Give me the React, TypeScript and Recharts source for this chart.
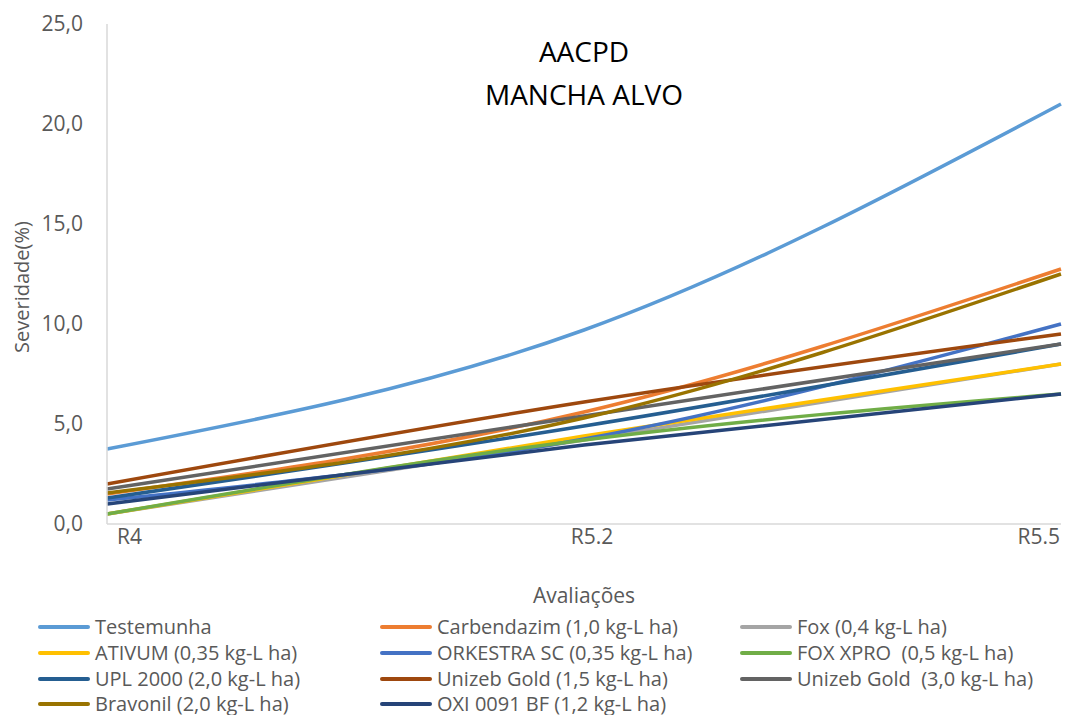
import React from 'react';
import { LineChart, Line, XAxis, YAxis } from 'recharts';

const categories = ['R4', 'R5.2', 'R5.5'];
const testemunha = [3.75, 9.7, 21.0];
const carbendazim = [1.5, 5.6, 12.75];
const fox = [0.5, 4.2, 8.0];
const ativum = [0.5, 4.4, 8.0];
const orkestra = [1.2, 4.25, 10.0];
const foxXpro = [0.5, 4.2, 6.5];
const upl2000 = [1.3, 4.9, 9.0];
const unizeb15 = [2.0, 6.1, 9.5];
const unizeb30 = [1.75, 5.4, 9.0];
const bravonil = [1.55, 5.3, 12.5];
const oxi = [1.0, 3.95, 6.5];
const yTicks = [0, 5, 10, 15, 20, 25];

const series = [
  { key: 'testemunha', name: 'Testemunha', values: testemunha, color: '#5B9BD5' },
  { key: 'carbendazim', name: 'Carbendazim (1,0 kg-L ha)', values: carbendazim, color: '#ED7D31' },
  { key: 'fox', name: 'Fox (0,4 kg-L ha)', values: fox, color: '#A5A5A5' },
  { key: 'ativum', name: 'ATIVUM (0,35 kg-L ha)', values: ativum, color: '#FFC000' },
  { key: 'orkestra', name: 'ORKESTRA SC (0,35 kg-L ha)', values: orkestra, color: '#4472C4' },
  { key: 'foxXpro', name: 'FOX XPRO\u00a0 (0,5 kg-L ha)', values: foxXpro, color: '#70AD47' },
  { key: 'upl2000', name: 'UPL 2000 (2,0 kg-L ha)', values: upl2000, color: '#255E91' },
  { key: 'unizeb15', name: 'Unizeb Gold (1,5 kg-L ha)', values: unizeb15, color: '#9E480E' },
  { key: 'unizeb30', name: 'Unizeb Gold\u00a0 (3,0 kg-L ha)', values: unizeb30, color: '#636363' },
  { key: 'bravonil', name: 'Bravonil (2,0 kg-L ha)', values: bravonil, color: '#997300' },
  { key: 'oxi', name: 'OXI 0091 BF (1,2 kg-L ha)', values: oxi, color: '#264478' },
];

const data = categories.map((c, i) => {
  const row: Record<string, any> = { cat: c };
  series.forEach((s) => (row[s.key] = s.values[i]));
  return row;
});

const FONT = '"Segoe UI", "Open Sans", "Noto Sans", sans-serif';
const GREY = '#595959';

const XTick = (props: any) => {
  const { x, y, payload, index } = props;
  let anchor: 'start' | 'middle' | 'end' = 'middle';
  let dx = 8;
  if (index === 0) { anchor = 'start'; dx = 10; }
  if (index === categories.length - 1) { anchor = 'end'; dx = -1; }
  return (
    <text x={x + dx} y={y} dy={12} textAnchor={anchor} fill={GREY} fontSize={21} fontFamily={FONT}>
      {payload.value}
    </text>
  );
};

const colX = [38, 380, 740];
const rowY = [627, 653, 679, 704];

export default function App() {
  return (
    <div style={{ position: 'absolute', left: 0, top: 0, width: 1072, height: 715, background: '#fff', fontFamily: FONT }}>
      <LineChart width={1072} height={715} data={data} margin={{ top: 24, right: 11, bottom: 151, left: 0 }}>
        <XAxis
          dataKey="cat"
          tick={<XTick />}
          tickLine={false}
          axisLine={{ stroke: '#D9D9D9', strokeWidth: 1.5 }}
          height={40}
          interval={0}
        />
        <YAxis
          domain={[0, 25]}
          ticks={yTicks}
          width={107}
          tickLine={false}
          tickSize={0}
          tickMargin={24}
          axisLine={{ stroke: '#D9D9D9', strokeWidth: 1.5 }}
          tick={{ fill: GREY, fontSize: 21, fontFamily: FONT }}
          tickFormatter={(v: number) => v.toFixed(1).replace('.', ',')}
        />
        {series.map((s) => (
          <Line
            key={s.key}
            type="natural"
            dataKey={s.key}
            name={s.name}
            stroke={s.color}
            strokeWidth={3.5}
            dot={false}
            activeDot={false}
            isAnimationActive={false}
          />
        ))}
      </LineChart>
      <div style={{ position: 'absolute', left: 384, width: 400, top: 30, textAlign: 'center', fontSize: 28, color: '#000', lineHeight: '43px' }}>
        AACPD<br />MANCHA ALVO
      </div>
      <div style={{ position: 'absolute', left: 484, width: 200, top: 581, textAlign: 'center', fontSize: 21, color: GREY, lineHeight: '28px' }}>
        Avaliações
      </div>
      <div style={{ position: 'absolute', left: 22, top: 287, width: 0, height: 0 }}>
        <div style={{ position: 'absolute', left: -100, top: -14, width: 200, textAlign: 'center', fontSize: 20, color: GREY, lineHeight: '28px', transform: 'rotate(-90deg)' }}>
          Severidade(%)
        </div>
      </div>
      {series.map((s, i) => {
        const col = i % 3;
        const row = Math.floor(i / 3);
        return (
          <div key={s.key} style={{ position: 'absolute', left: colX[col], top: rowY[row] - 13, height: 26, display: 'flex', alignItems: 'center', whiteSpace: 'pre' }}>
            <div style={{ width: 52, height: 4, borderRadius: 2, background: s.color, marginRight: 5 }} />
            <span style={{ fontSize: 20, color: GREY, lineHeight: '26px' }}>{s.name}</span>
          </div>
        );
      })}
    </div>
  );
}
